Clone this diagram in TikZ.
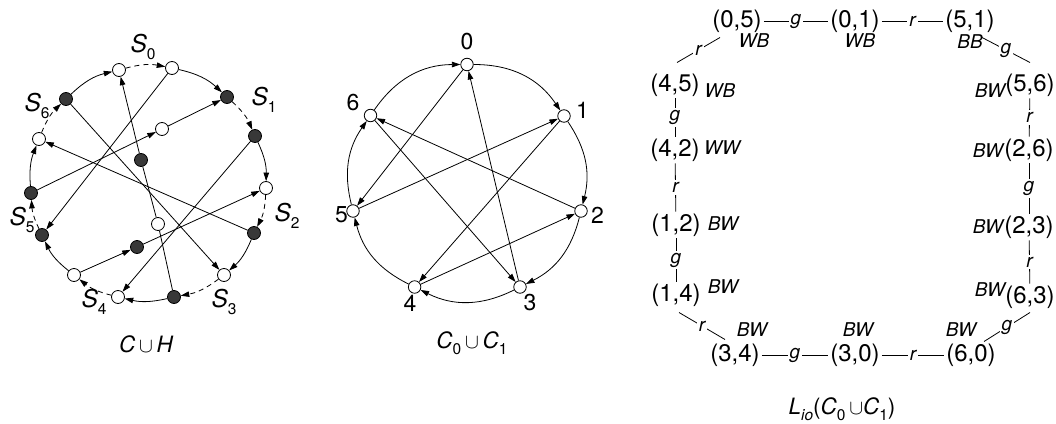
\documentclass[tikz,border=0pt]{standalone}
\usepackage{fontspec}
\setmainfont{TeX Gyre Heros}
\usetikzlibrary{arrows.meta}
\newcommand\subs[1]{\raisebox{-0.26em}{\fontsize{15.5}{15.5}\selectfont\upshape #1}}
\newcommand\fnode{\fontsize{24}{28}\selectfont}
\newcommand\fst{\fontsize{19}{22}\selectfont\itshape}
\newcommand\fcap{\fontsize{22.5}{26}\selectfont}
\newcommand\cupsym{{\fontsize{21}{21}\selectfont$\cup$}}
\begin{document}
\begin{tikzpicture}[x=1pt,y=-1pt,
  every node/.style={inner sep=0pt},
  vo/.style={circle,draw,fill=white,minimum size=13pt,line width=0.8pt},
  vf/.style={circle,draw,fill=black!78,minimum size=13pt,line width=0.8pt},
  wo/.style={circle,draw,fill=white,minimum size=12.5pt,line width=0.8pt},
  con/.style={line width=0.8pt},
  arr/.style={con,-{Triangle[length=8.5pt,width=5.5pt]}},
  dsh/.style={arr,dash pattern=on 5pt off 4pt},
  slab/.style={font=\fontsize{24.5}{28}\selectfont\itshape},
  dlab/.style={font=\fontsize{23}{27}\selectfont},
  lnode/.style={font=\fnode,inner sep=2pt},
  st/.style={font=\fst},
  lab/.style={font=\fst,fill=white,inner sep=2pt},
  lin/.style={line width=0.8pt}]
\useasboundingbox (0,0) rectangle (1056,423);

% ---------- C u H ----------
\node[vo] (a1) at (119,70) {};
\node[vo] (a2) at (172,68) {};
\node[vf] (a3) at (227,97) {};
\node[vf] (a4) at (255,136) {};
\node[vo] (a5) at (266,188) {};
\node[vf] (a6) at (254,233) {};
\node[vo] (a7) at (224,275) {};
\node[vf] (a8) at (174,297) {};
\node[vo] (a9) at (118,297) {};
\node[vo] (a10) at (74,275) {};
\node[vf] (a11) at (42,235) {};
\node[vf] (a12) at (31,193) {};
\node[vo] (a13) at (39,139) {};
\node[vf] (a14) at (66,99) {};
\node[vo] (i1) at (162,129) {};
\node[vf] (i2) at (141,160) {};
\node[vo] (i3) at (158,224) {};
\node[vf] (i4) at (137,247) {};

\draw[dsh] (a1) to[bend left=13] (a2);
\draw[arr] (a2) to[bend left=15] (a3);
\draw[dsh] (a3) to[bend left=12] (a4);
\draw[arr] (a4) to[bend left=13] (a5);
\draw[dsh] (a5) to[bend left=12] (a6);
\draw[arr] (a6) to[bend left=13] (a7);
\draw[dsh] (a7) to[bend left=13] (a8);
\draw[arr] (a8) to[bend left=13] (a9);
\draw[dsh] (a9) to[bend left=12] (a10);
\draw[arr] (a10) to[bend left=13] (a11);
\draw[dsh] (a11) to[bend left=11] (a12);
\draw[arr] (a12) to[bend left=13] (a13);
\draw[dsh] (a13) to[bend left=12] (a14);
\draw[arr] (a14) to[bend left=15] (a1);

\draw[arr] (a2) -- (a11);
\draw[con] (a8) -- (i3);
\draw[con] (i3) -- (i2);
\draw[arr] (i2) -- (a1);
\draw[arr] (a12) -- (i1);
\draw[arr] (i1) -- (a3);
\draw[arr] (a4) -- (a9);
\draw[arr] (a10) -- (i4);
\draw[arr] (i4) -- (a5);
\draw[arr] (a6) -- (a13);
\draw[arr] (a14) -- (a7);

\node[slab] (s0) at (143,47) {S\subs{0}};
\node[slab] (s1) at (264,100) {S\subs{1}};
\node[slab] (s2) at (287,216) {S\subs{2}};
\node[slab] (s3) at (224,302) {S\subs{3}};
\node[slab] (s4) at (94,302) {S\subs{4}};
\node[slab] (s5) at (22,220) {S\subs{5}};
\node[slab] (s6) at (37,106) {S\subs{6}};
\node[font=\fcap] (capA) at (146,344) {\itshape C\,\cupsym\,H};

% ---------- C0 u C1 ----------
\node[wo] (c0) at (467,64.5) {};
\node[wo] (c1) at (564,116) {};
\node[wo] (c2) at (581,211) {};
\node[wo] (c3) at (520,287) {};
\node[wo] (c4) at (414.6,287) {};
\node[wo] (c5) at (353,211) {};
\node[wo] (c6) at (370.5,115.5) {};

\draw[arr] (c0) to[bend left=28] (c1);
\draw[arr] (c1) to[bend left=24] (c2);
\draw[arr] (c2) to[bend left=24.5] (c3);
\draw[arr] (c3) to[bend left=26.5] (c4);
\draw[arr] (c4) to[bend left=24.7] (c5);
\draw[arr] (c5) to[bend left=24.4] (c6);
\draw[arr] (c6) to[bend left=27.7] (c0);

\draw[arr] (c0) -- (c5);
\draw[arr] (c5) -- (c1);
\draw[arr] (c1) -- (c4);
\draw[arr] (c4) -- (c2);
\draw[arr] (c2) -- (c6);
\draw[arr] (c6) -- (c3);
\draw[arr] (c3) -- (c0);

\node[dlab] (d0) at (467,42) {0};
\node[dlab] (d1) at (582.5,110) {1};
\node[dlab] (d2) at (597.5,215) {2};
\node[dlab] (d3) at (530,303) {3};
\node[dlab] (d4) at (410,303) {4};
\node[dlab] (d5) at (341.5,215) {5};
\node[dlab] (d6) at (353,103) {6};
\node[font=\fcap] (capB) at (472,343) {\itshape C\subs{0}\,\cupsym\,\itshape C\subs{1}};

% ---------- L_io ----------
\node[lnode] (n05) at (737,21) {(0,5)};
\node[lnode] (n01) at (855,21) {(0,1)};
\node[lnode] (n51) at (970,21) {(5,1)};
\node[lnode] (n45) at (675,85) {(4,5)};
\node[lnode] (n42) at (675,150) {(4,2)};
\node[lnode] (n12) at (676,225) {(1,2)};
\node[lnode] (n14) at (676,295) {(1,4)};
\node[lnode] (n34) at (735,355) {(3,4)};
\node[lnode] (n30) at (855,355) {(3,0)};
\node[lnode] (n60) at (971,355) {(6,0)};
\node[lnode] (n63) at (1030,297) {(6,3)};
\node[lnode] (n23) at (1029,227) {(2,3)};
\node[lnode] (n26) at (1029,150) {(2,6)};
\node[lnode] (n56) at (1030,85) {(5,6)};

\draw[lin] (n05) -- node[lab]{g} (n01);
\draw[lin] (n01) -- node[lab]{r} (n51);
\draw[lin] (n34) -- node[lab]{g} (n30);
\draw[lin] (n30) -- node[lab]{r} (n60);
\draw[lin] (n45) -- node[lab]{g} (n42);
\draw[lin] (n42) -- node[lab]{r} (n12);
\draw[lin] (n12) -- node[lab]{g} (n14);
\draw[lin] (n56) -- node[lab]{r} (n26);
\draw[lin] (n26) -- node[lab]{g} (n23);
\draw[lin] (n23) -- node[lab]{r} (n63);
\draw[lin] ([xshift=-17pt,yshift=-3pt]n05.south) -- node[lab]{r} ([xshift=2pt,yshift=9pt]n45.north);
\draw[lin] ([xshift=12pt,yshift=-3pt]n51.south) -- node[lab]{g} ([yshift=9pt]n56.north);
\draw[lin] ([xshift=3pt,yshift=-4pt]n14.south) -- node[lab]{r} ([xshift=-10pt,yshift=2pt]n34.north);
\draw[lin] ([xshift=13pt]n60.north) -- node[lab]{g} ([yshift=-2pt]n63.south);

\node[st] (w1) at (754,41) {WB};
\node[st] (w2) at (860,41) {WB};
\node[st] (w3) at (970,42) {BB};
\node[st] (w4) at (720,91) {WB};
\node[st] (w5) at (722,148) {WW};
\node[st] (w6) at (723,224) {BW};
\node[st] (w7) at (723,287) {BW};
\node[st] (w8) at (752,330) {BW};
\node[st] (w9) at (858,330) {BW};
\node[st] (w10) at (961,330) {BW};
\node[st] (w11) at (990,290) {BW};
\node[st] (w12) at (988,227) {BW};
\node[st] (w13) at (988,151) {BW};
\node[st] (w14) at (990,91) {BW};
\node[font=\fcap] (capC) at (842,409) {\itshape L\subs{\itshape io}\upshape(\itshape C\subs{0}\,\cupsym\itshape C\subs{1}\upshape)};
\end{tikzpicture}
\end{document}
